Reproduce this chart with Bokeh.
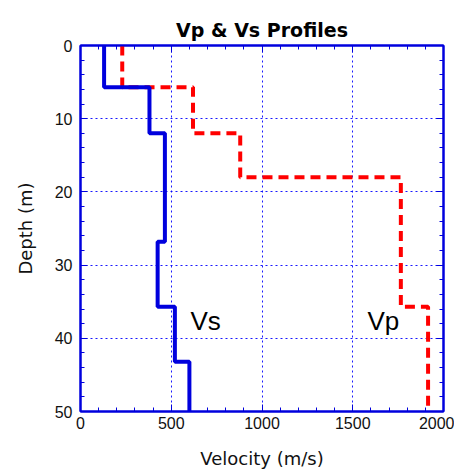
import numpy as np
from bokeh.plotting import figure
from bokeh.models import Range1d, LinearAxis, FixedTicker, ColumnDataSource
from bokeh.core.properties import value
from bokeh.embed import file_html
from bokeh.resources import INLINE

# Layer data (depth top in m, velocity in m/s)
vs_tops = [0, 5.7, 12, 26.8, 35.7, 43.2]
vs_vals = [130, 380, 465, 425, 520, 600]
vp_tops = [0, 5.7, 12, 18, 35.7]
vp_vals = [230, 620, 880, 1765, 1915]
max_depth = 50

x_ticks = [0, 500, 1000, 1500, 2000]
y_ticks = [0, 10, 20, 30, 40, 50]

labels = ["Vs", "Vp"]
label_x = [606, 1581]
label_y = [37.7, 37.7]


def profile(tops, vals, bottom):
    xs, ys = [], []
    bots = list(tops[1:]) + [bottom]
    for t, b, v in zip(tops, bots, vals):
        xs += [v, v]
        ys += [t, b]
    return xs, ys


FONT = "DejaVu Sans"
TICKFONT = "Liberation Sans"
BLUE = "#0000dd"

p = figure(width=454, height=471, output_backend="svg", toolbar_location=None,
           x_range=Range1d(0, 2000), y_range=Range1d(50, 0),
           min_border_left=80, min_border_right=11, min_border_top=45, min_border_bottom=52,
           title="Vp & Vs Profiles", x_axis_label="Velocity (m/s)", y_axis_label="Depth (m)")

p.title.align = "center"
p.title.text_font = FONT
p.title.text_font_size = "19px"
p.title.text_font_style = "bold"
p.title.text_color = "black"
p.title.offset = 0

p.outline_line_color = BLUE
p.outline_line_width = 2
p.outline_line_alpha = 1

for ax in [p.xaxis[0], p.yaxis[0]]:
    ax.axis_line_color = BLUE
    ax.axis_line_width = 2
    ax.major_tick_line_color = BLUE
    ax.minor_tick_line_color = BLUE
    ax.major_tick_in = 7
    ax.major_tick_out = 0
    ax.minor_tick_in = 4
    ax.minor_tick_out = 0
    ax.major_label_text_font = TICKFONT
    ax.major_label_text_font_size = "16px"
    ax.major_label_text_color = "#111111"
    ax.axis_label_text_font = FONT
    ax.axis_label_text_font_size = "18px"
    ax.axis_label_text_font_style = "normal"
    ax.axis_label_text_color = "#111111"

p.xaxis[0].ticker = FixedTicker(ticks=x_ticks, minor_ticks=list(range(0, 2001, 100)))
p.yaxis[0].ticker = FixedTicker(ticks=y_ticks, minor_ticks=list(range(0, 51, 2)))
p.xaxis[0].axis_label_standoff = 16
p.yaxis[0].axis_label_standoff = 16
p.xaxis[0].major_label_standoff = 5
p.yaxis[0].major_label_standoff = 8

rax = LinearAxis(ticker=FixedTicker(ticks=y_ticks, minor_ticks=list(range(0, 51, 2))),
                 major_label_text_font_size="0px", axis_line_color=BLUE, axis_line_width=2,
                 major_tick_line_color=BLUE, minor_tick_line_color=BLUE,
                 major_tick_in=7, major_tick_out=0, minor_tick_in=4, minor_tick_out=0)
tax = LinearAxis(ticker=FixedTicker(ticks=x_ticks, minor_ticks=list(range(0, 2001, 100))),
                 major_label_text_font_size="0px", axis_line_color=BLUE, axis_line_width=2,
                 major_tick_line_color=BLUE, minor_tick_line_color=BLUE,
                 major_tick_in=7, major_tick_out=0, minor_tick_in=4, minor_tick_out=0)
p.add_layout(rax, "right")
p.add_layout(tax, "above")

for g in [p.xgrid[0], p.ygrid[0]]:
    g.grid_line_color = "#0000ff"
    g.grid_line_dash = "2 3"
    g.grid_line_width = 1
    g.grid_line_alpha = 0.9
p.xgrid[0].ticker = FixedTicker(ticks=x_ticks)
p.ygrid[0].ticker = FixedTicker(ticks=y_ticks)

vs_x, vs_y = profile(vs_tops, vs_vals, max_depth)
vp_x, vp_y = profile(vp_tops, vp_vals, max_depth)

p.line(vp_x, vp_y, line_color="#ff0000", line_width=4, line_dash="10 6")
p.line(vs_x, vs_y, line_color=BLUE, line_width=4)

src = ColumnDataSource(dict(x=label_x, y=label_y, t=labels))
p.text(x="x", y="y", text="t", source=src, text_font=value("Liberation Sans"),
       text_font_size="26px", text_color="black", text_baseline="alphabetic")

open("out.html", "w").write(file_html(p, INLINE))
